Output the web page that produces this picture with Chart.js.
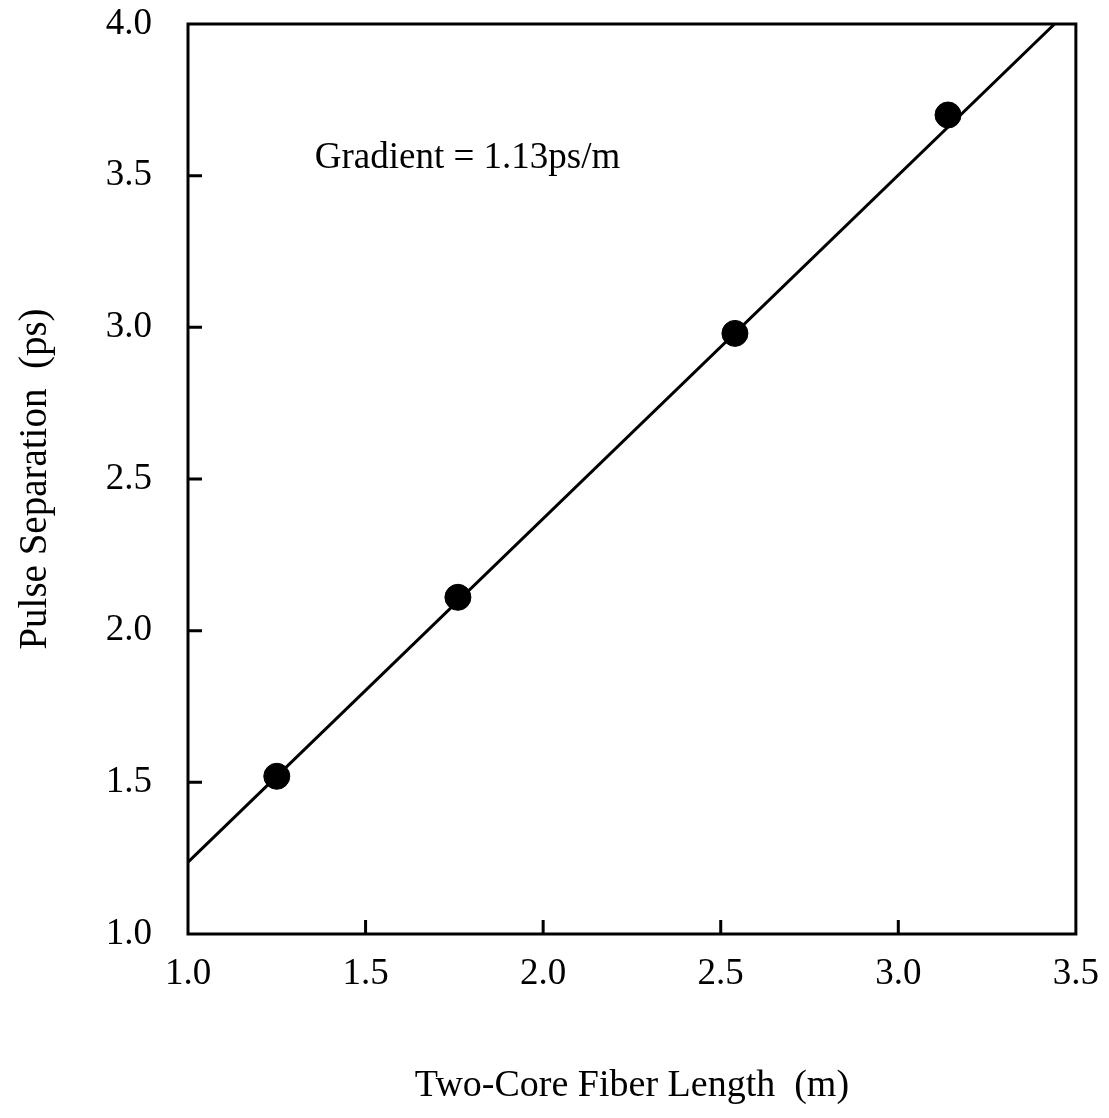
<!DOCTYPE html>
<html>
<head>
<meta charset="utf-8">
<script src="https://cdn.jsdelivr.net/npm/chart.js@4/dist/chart.umd.min.js"></script>
<style>
  html, body { margin: 0; padding: 0; background: #fff; }
  canvas { display: block; }
</style>
</head>
<body>
<canvas id="fiberChart" width="1109" height="1118"></canvas>
<script>
// measured points
let fiberLength = [1.25, 1.76, 2.54, 3.14];
let pulseSep = [1.52, 2.11, 2.98, 3.70];

// fitted line end points
let fitX = [1.0, 3.44];
let fitY = [1.237, 4.0];

let xTicks = [1.0, 1.5, 2.0, 2.5, 3.0, 3.5];
let yTicks = [1.0, 1.5, 2.0, 2.5, 3.0, 3.5, 4.0];

let note = "Gradient = 1.13ps/m";

let serif = "'Liberation Serif', 'Times New Roman', serif";

// frame + inward ticks + note
let framePlugin = {
    id: "frame",
    afterDatasetsDraw(chart) {
        let ctx = chart.ctx;
        let a = chart.chartArea;
        let xs = chart.scales.x;
        let ys = chart.scales.y;
        ctx.save();
        ctx.strokeStyle = "#000";
        ctx.lineWidth = 3;
        ctx.strokeRect(a.left, a.top, a.right - a.left, a.bottom - a.top);
        ctx.beginPath();
        xTicks.slice(1, -1).forEach(function(v){
            let px = xs.getPixelForValue(v);
            ctx.moveTo(px, a.bottom);
            ctx.lineTo(px, a.bottom - 14);
        });
        yTicks.slice(1, -1).forEach(function(v){
            let py = ys.getPixelForValue(v);
            ctx.moveTo(a.left, py);
            ctx.lineTo(a.left + 14, py);
        });
        ctx.stroke();

        ctx.fillStyle = "#000";
        ctx.font = "37px " + serif;
        ctx.textBaseline = "alphabetic";
        ctx.fillText(note, xs.getPixelForValue(1.357), ys.getPixelForValue(3.525));
        ctx.restore();
    }
};

new Chart("fiberChart", {
    type: "scatter",
    data: {
        datasets: [
            {
                data: fitX.map(function(x, i){ return {x: x, y: fitY[i]}; }),
                showLine: true,
                borderColor: "#000",
                borderWidth: 3,
                pointRadius: 0,
                fill: false
            },
            {
                data: fiberLength.map(function(x, i){ return {x: x, y: pulseSep[i]}; }),
                backgroundColor: "#000",
                borderColor: "#000",
                pointRadius: 13,
                pointHoverRadius: 13
            }
        ]
    },
    plugins: [framePlugin],
    options: {
        responsive: false,
        animation: false,
        layout: { padding: { top: 24, right: 0, bottom: 0, left: 0 } },
        plugins: {
            legend: { display: false },
            tooltip: { enabled: false }
        },
        scales: {
            x: {
                type: "linear",
                min: 1.0,
                max: 3.5,
                afterBuildTicks: function(s){ s.ticks = xTicks.map(function(v){ return {value: v}; }); },
                afterFit: function(s){ s.height = 184; },
                grid: { display: false },
                border: { display: false },
                ticks: {
                    color: "#000",
                    padding: 10,
                    maxRotation: 0,
                    font: { family: serif, size: 37 },
                    callback: function(v){ return v.toFixed(1); }
                },
                title: {
                    display: true,
                    text: "Two-Core Fiber Length  (m)",
                    color: "#000",
                    font: { family: serif, size: 38 },
                    padding: { top: 0, bottom: 9 }
                }
            },
            y: {
                type: "linear",
                min: 1.0,
                max: 4.0,
                afterBuildTicks: function(s){ s.ticks = yTicks.map(function(v){ return {value: v}; }); },
                afterFit: function(s){ s.width = 188; s.paddingTop = 0; s.paddingBottom = 0; },
                grid: { display: false },
                border: { display: false },
                ticks: {
                    color: "#000",
                    padding: 28,
                    font: { family: serif, size: 37 },
                    callback: function(v){ return v.toFixed(1); }
                },
                title: {
                    display: true,
                    text: "Pulse Separation  (ps)",
                    color: "#000",
                    font: { family: serif, size: 39 },
                    padding: { top: 12, bottom: 0 }
                }
            }
        }
    }
});
</script>
</body>
</html>
